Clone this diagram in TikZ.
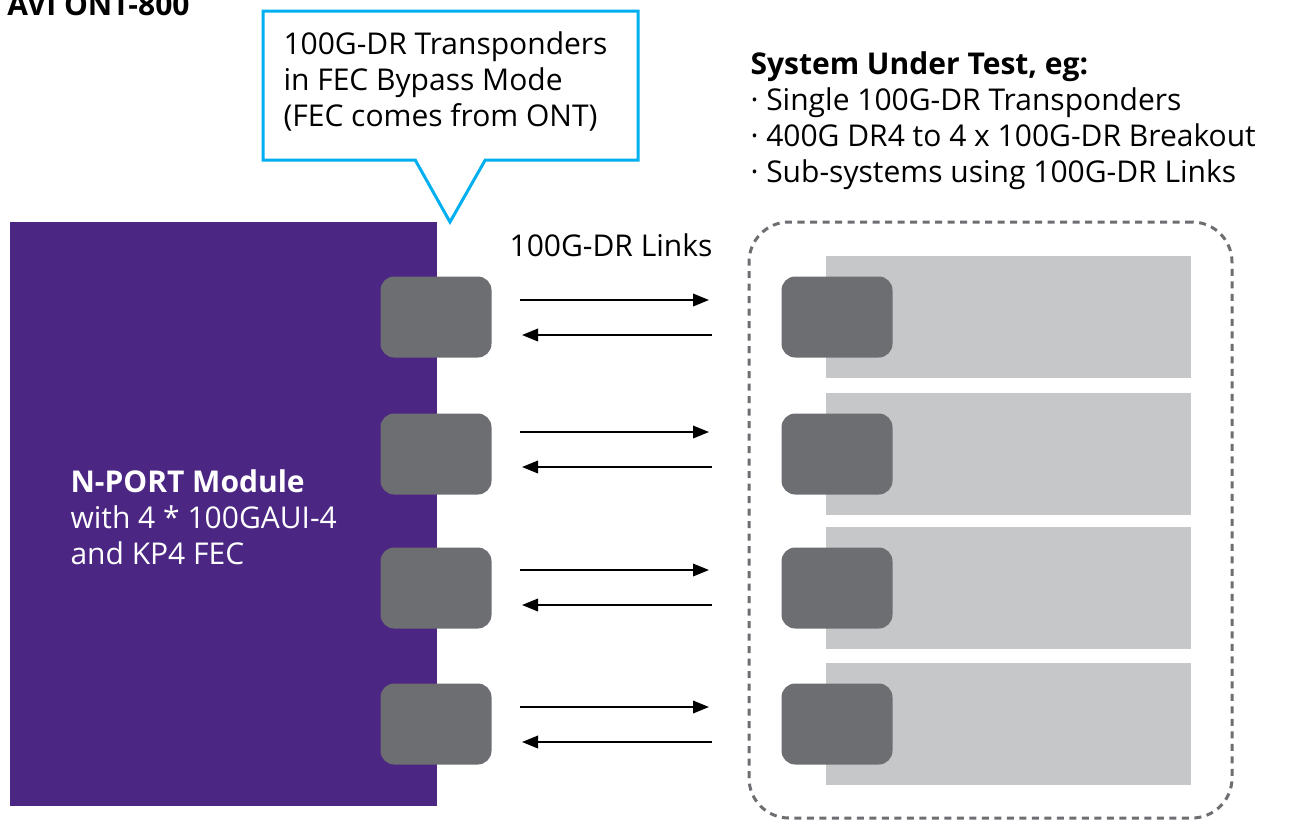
\documentclass[tikz,border=0pt]{standalone}
\usepackage{fontspec}
\setmainfont{Open Sans}
\usetikzlibrary{
  arrows.meta,
  positioning,
  calc,
  shapes.callouts, % rectangle callout
}
\def\px{0.4pt}
\definecolor{ontpurple}{RGB}{75,38,131}
\definecolor{portgray}{RGB}{109,110,113}
\definecolor{sutgray}{RGB}{198,199,201}
\definecolor{calloutcyan}{RGB}{0,175,239}
\tikzset{
  font=\fontsize{12}{14.4}\selectfont,
  >={Triangle[length=6.4pt,width=5pt]},
  txt/.style={
    inner sep=0pt,
    align=left
  },
  module/.style={
    fill=ontpurple,
    minimum width=427*\px,
    minimum height=584*\px,
    inner sep=0pt
  },
  port/.style={
    fill=portgray,
    rounded corners=5.5pt,
    minimum width=111*\px,
    minimum height=81*\px,
    inner sep=0pt
  },
  sut/.style={
    fill=sutgray,
    minimum width=365*\px,
    minimum height=122*\px,
    inner sep=0pt
  },
  sut frame/.style={
    draw=portgray,
    line width=1.2pt,
    dash pattern=on 2.8pt off 2.2pt,
    rounded corners=16pt,
    minimum width=483*\px,
    minimum height=596*\px
  },
  note/.style={
    rectangle callout,
    draw=calloutcyan,
    line width=1.2pt,
    minimum width=375*\px,
    minimum height=149*\px,
    callout pointer width=28pt
  },
  link/.style={
    ->,
    line width=0.8pt
  }
}
\begin{document}
\begin{tikzpicture}[x=\px, y=-\px]
\useasboundingbox (0,0) rectangle (1295,822);
\node[txt, font=\fontsize{12}{14.4}\selectfont\bfseries, anchor=base east] (title) at (190,15) {AVI ONT-800};
\node[module] (nport) at (223.5,514) {};
\node[txt, text=white, anchor=north west] (nporttext) at (70,469)
  {\textbf{N-PORT Module}\\with 4 * 100GAUI-4\\and KP4 FEC};
\node[note, callout absolute pointer={(450,222)}] (note) at (450.5,85.5) {};
\node[txt, anchor=north west] (notetext) at (283,31)
  {100G-DR Transponders\\in FEC Bypass Mode\\(FEC comes from ONT)};
\node[txt, anchor=base] (links) at (611,256) {100G-DR Links};
\node[sut frame] (frame) at (990.5,520) {};
\node[txt, anchor=north west] (suttext) at (750,51)
  {\textbf{System Under Test, eg:}\\· Single 100G-DR Transponders\\· 400G DR4 to 4 x 100G-DR Breakout\\· Sub-systems using 100G-DR Links};
\foreach \i/\y/\yr in {1/317/300,2/454/432,3/588/570,4/724/707}{
  \node[sut] (sut\i) at (1008,\y) {};
  \node[port] (lp\i) at (436,\y) {};
  \node[port] (rp\i) at (837,\y) {};
  \draw[link, shorten <=11.2pt, shorten >=28.8pt] (lp\i.east |- 0,\yr) -- (rp\i.west |- 0,\yr);
  \draw[link, shorten <=27.6pt, shorten >=12pt] (rp\i.west |- 0,\yr+35) -- (lp\i.east |- 0,\yr+35);
}
\end{tikzpicture}
\end{document}
